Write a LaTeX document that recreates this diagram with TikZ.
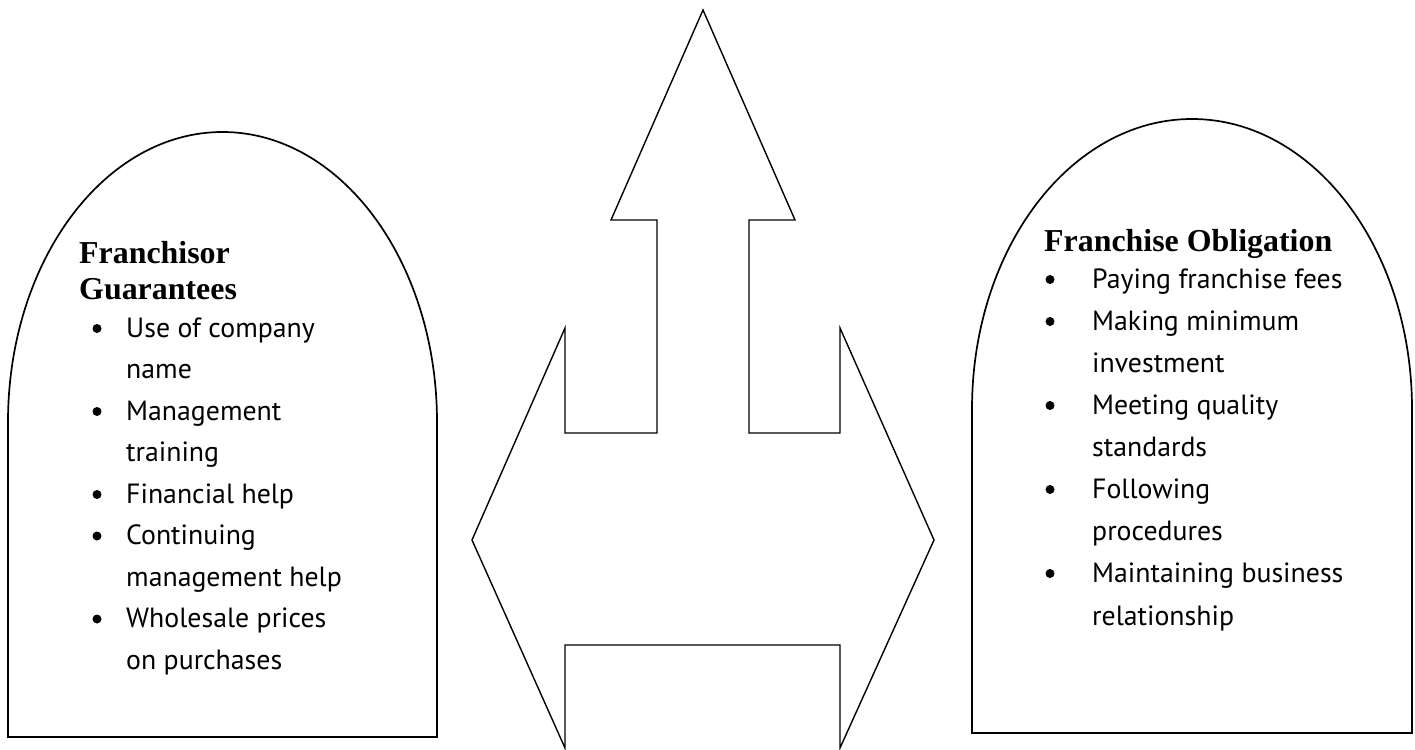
\documentclass[tikz,border=0pt]{standalone}
\usepackage{fontspec}
\setmainfont{Liberation Serif}
\newfontfamily\listfont{PT Sans}
\usetikzlibrary{calc}

\begin{document}
\begin{tikzpicture}[
    x=1pt, y=-1pt,
    dome/.style={draw, line width=1.7pt},
    bigarrow/.style={draw, line width=1.4pt, line join=miter},
    titletext/.style={anchor=base west, inner sep=0pt, font=\fontsize{31.9}{36}\selectfont\bfseries},
    listtext/.style={anchor=base west, inner sep=0pt, font=\listfont\fontsize{27.8}{30}\selectfont},
    bulletdot/.style={circle, fill=black, minimum size=9pt, inner sep=0pt}
]
\useasboundingbox (0,0) rectangle (1415,749);

% Arched panels
\draw[dome] (8,737) -- (8,422) arc[start angle=180, end angle=360, x radius=214.5, y radius=290] -- (437,737) -- cycle;
\draw[dome] (972,733) -- (972,409) arc[start angle=180, end angle=360, x radius=220, y radius=290] -- (1412,733) -- cycle;

% Three-way arrow
\draw[bigarrow] (703,10) -- (795,220) -- (749,220) -- (749,433) -- (840,433) -- (840,328)
    -- (934,540) -- (840,748) -- (840,645) -- (565,645) -- (565,748) -- (472,540)
    -- (565,328) -- (565,433) -- (657,433) -- (657,220) -- (611,220) -- cycle;

% Franchisor guarantees
\node[titletext] (GT1) at (79,263) {Franchisor};
\node[titletext] (GT2) at (79,299) {Guarantees};
\foreach \n/\y/\t/\b in {1/337/Use of company/1, 2/378.5/name/0, 3/420/Management/1,
    4/461.5/training/0, 5/503/Financial help/1, 6/544.5/Continuing/1,
    7/586/management help/0, 8/627.5/Wholesale prices/1, 9/669/on purchases/0}
{
    \node[listtext] (G\n) at (126,\y) {\t};
    \ifnum\b=1 \node[bulletdot] (GB\n) at (97,{\y-8.5}) {}; \fi
}

% Franchise obligation
\node[titletext] (OT) at (1044,251) {Franchise Obligation};
\foreach \n/\y/\t/\b in {1/288/Paying franchise fees/1, 2/330/Making minimum/1, 3/372/investment/0,
    4/414/Meeting quality/1, 5/456/standards/0, 6/498/Following/1,
    7/540/procedures/0, 8/582/Maintaining business/1, 9/625/relationship/0}
{
    \node[listtext] (O\n) at (1092,\y) {\t};
    \ifnum\b=1 \node[bulletdot] (OB\n) at (1050,{\y-8.5}) {}; \fi
}

\end{tikzpicture}
\end{document}
